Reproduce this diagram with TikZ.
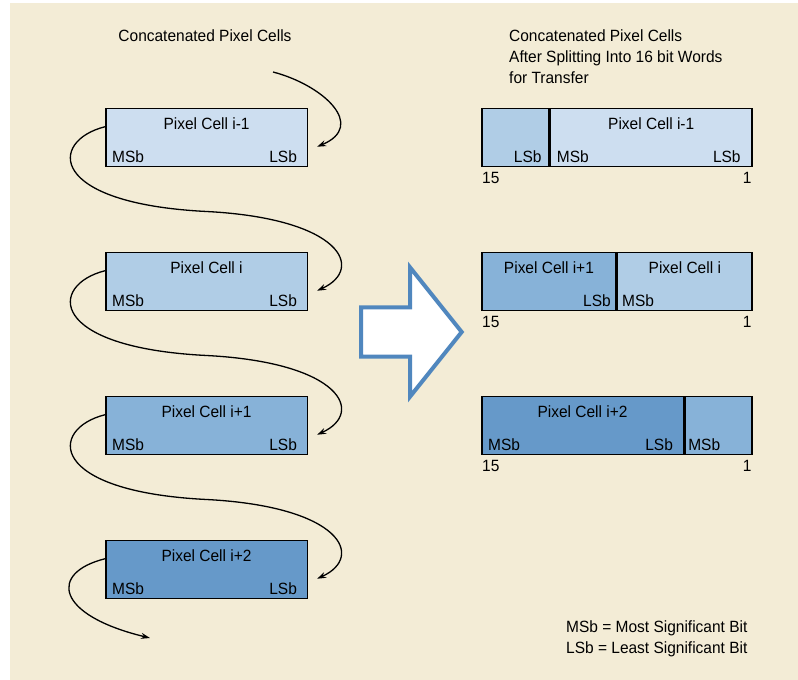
\documentclass[tikz,border=0pt]{standalone}
\usepackage{fontspec}
\setmainfont{Liberation Sans}[FakeStretch=0.95]
\usetikzlibrary{arrows.meta}
\definecolor{paper}{RGB}{243,236,214}
\definecolor{cellA}{RGB}{205,222,240}
\definecolor{cellB}{RGB}{176,205,230}
\definecolor{cellC}{RGB}{135,178,216}
\definecolor{cellD}{RGB}{102,153,201}
\definecolor{bigarrow}{RGB}{80,135,190}

\begin{document}
\begin{tikzpicture}[x=1pt,y=1pt,font=\fontsize{16.3}{21}\selectfont,
  cell/.style={draw,line width=1.5pt,minimum height=58pt,inner sep=0pt,anchor=north west},
  txt/.style={inner sep=0pt},
  flow/.style={line width=1.3pt,-{Stealth[length=9pt,width=6pt]}}]
\useasboundingbox (0,0) rectangle (798,680);
\fill[paper] (10,0) rectangle (798,677);

% titles
\node[txt,anchor=base] (lefttitle) at (205,638.3) {Concatenated Pixel Cells};
\node[txt,anchor=base west,align=left] (righttitle) at (509,596.3) {Concatenated Pixel Cells\\After Splitting Into 16 bit Words\\for Transfer};

% left column: one box per pixel cell
\foreach \n/\y/\col/\name in {1/572/cellA/i-1,2/428/cellB/i,3/284/cellC/i+1,4/140/cellD/i+2}{
  \node[cell,fill=\col,minimum width=201.6pt] (c\n) at (105,\y) {};
  \node[txt,anchor=base] (t\n) at ([yshift=-22pt]c\n.north) {Pixel Cell \name};
  \node[txt,anchor=base west] (m\n) at ([shift={(7pt,5pt)}]c\n.south west) {MSb};
  \node[txt,anchor=base east] (l\n) at ([shift={(-11pt,5pt)}]c\n.south east) {LSb};
}

% flow of the bits
\coordinate (in) at (273,608);
\coordinate (out) at (150,42);
\draw[flow] (in) .. controls +(50,-13) and +(50,21) .. ([shift={(9pt,-9pt)}]c1.east);
\foreach \n/\m in {1/2,2/3,3/4}{
  \coordinate (mid\n) at ([yshift=-44pt]c\n.south);
  \draw[flow] ([yshift=11pt]c\n.west) .. controls +(-56,-14) and +(-160,8) .. (mid\n)
    .. controls +(135,-7) and +(48,22) .. ([shift={(9pt,-9pt)}]c\m.east);
}
\draw[flow] ([yshift=11pt]c4.west) .. controls +(-56,-14) and +(-95,23) .. (out);

% big arrow
\draw[bigarrow,fill=white,line width=4pt,line join=miter]
  (361,372.7) -- (410,372.7) -- (410,412.7) -- (461.7,348) -- (410,283.3)
  -- (410,323.3) -- (361,323.3) -- cycle;

% right column: 16 bit words
\node[cell,fill=cellB,minimum width=67.2pt] (w1a) at (481,572) {};
\node[cell,fill=cellA,minimum width=201.6pt] (w1b) at (w1a.north east) {};
\node[cell,fill=cellC,minimum width=134.4pt] (w2a) at (481,428) {};
\node[cell,fill=cellB,minimum width=134.4pt] (w2b) at (w2a.north east) {};
\node[cell,fill=cellD,minimum width=201.6pt] (w3a) at (481,284) {};
\node[cell,fill=cellC,minimum width=67.2pt] (w3b) at (w3a.north east) {};

\node[txt,anchor=base east] (w1l) at ([shift={(-8pt,5pt)}]w1a.south east) {LSb};
\node[txt,anchor=base west] (w1m) at ([shift={(7pt,5pt)}]w1b.south west) {MSb};
\node[txt,anchor=base] (w1t) at ([yshift=-22pt]w1b.north) {Pixel Cell i-1};
\node[txt,anchor=base east] (w1r) at ([shift={(-12pt,5pt)}]w1b.south east) {LSb};

\node[txt,anchor=base] (w2t) at ([yshift=-22pt]w2a.north) {Pixel Cell i+1};
\node[txt,anchor=base east] (w2l) at ([shift={(-6pt,5pt)}]w2a.south east) {LSb};
\node[txt,anchor=base west] (w2m) at ([shift={(5pt,5pt)}]w2b.south west) {MSb};
\node[txt,anchor=base] (w2s) at ([yshift=-22pt]w2b.north) {Pixel Cell i};

\node[txt,anchor=base] (w3t) at ([yshift=-22pt]w3a.north) {Pixel Cell i+2};
\node[txt,anchor=base west] (w3m) at ([shift={(7pt,5pt)}]w3a.south west) {MSb};
\node[txt,anchor=base east] (w3l) at ([shift={(-11pt,5pt)}]w3a.south east) {LSb};
\node[txt,anchor=base west] (w3n) at ([shift={(4pt,5pt)}]w3b.south west) {MSb};

% bit numbers
\foreach \r/\s in {w1a/w1b,w2a/w2b,w3a/w3b}{
  \node[txt,anchor=base west] (\r hi) at ([shift={(1pt,-16.5pt)}]\r.south west) {15};
  \node[txt,anchor=base east] (\s lo) at ([shift={(-1pt,-16.5pt)}]\s.south east) {1};
}

% legend
\node[txt,anchor=base west,align=left] (legend) at (566,26) {MSb = Most Significant Bit\\LSb = Least Significant Bit};
\end{tikzpicture}
\end{document}
